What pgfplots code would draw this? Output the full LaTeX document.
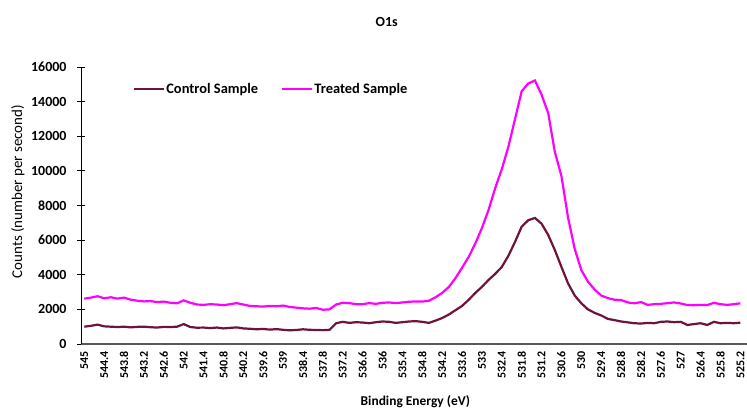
\documentclass[border=0pt]{standalone}
\usepackage{pgfplots}
\pgfplotsset{compat=1.18}
\usepackage{fontspec}
\setmainfont{Carlito}
\definecolor{ctrl}{RGB}{110,18,62}
\definecolor{treat}{RGB}{255,0,255}

\begin{document}
\begin{tikzpicture}
\useasboundingbox (-81bp,-68bp) rectangle (666bp,344bp);
\begin{axis}[
    at={(0,0)}, anchor=south west,
    scale only axis, width=666bp, height=277bp,
    x dir=reverse,
    xmin=525.0, xmax=545.1, ymin=0, ymax=16000,
    axis x line*=bottom, axis y line*=left,
    axis line style={-},
    x axis line style={draw=black!65, line width=1.4bp},
    y axis line style={black, line width=0.9bp},
    xtick={545,544.4,543.8,543.2,542.6,542,541.4,540.8,540.2,539.6,539,538.4,537.8,537.2,536.6,536,535.4,534.8,534.2,533.6,533,532.4,531.8,531.2,530.6,530,529.4,528.8,528.2,527.6,527,526.4,525.8,525.2},
    xticklabels={545,544.4,543.8,543.2,542.6,542,541.4,540.8,540.2,539.6,539,538.4,537.8,537.2,536.6,536,535.4,534.8,534.2,533.6,533,532.4,531.8,531.2,530.6,530,529.4,528.8,528.2,527.6,527,526.4,525.8,525.2},
    x tick label style={rotate=90, anchor=east, font=\fontsize{12}{14}\selectfont\bfseries},
    major x tick style={draw=none},
    ytick={0,2000,...,16000},
    scaled y ticks=false,
    y tick label style={xshift=-7bp, font=\fontsize{14}{16}\selectfont\bfseries},
    /pgf/number format/assume math mode=true,
    /pgf/number format/set thousands separator={},
    tick align=center, major tick length=8bp,
    ytick style={black, line width=0.9bp},
    xlabel={Binding Energy (eV)},
    xlabel style={at={(axis description cs:0.502,-0.209)}, anchor=center, font=\fontsize{13.5}{15}\selectfont\bfseries},
    ylabel={Counts (number per second)},
    ylabel style={at={(axis description cs:-0.0946,0.55)}, anchor=center, font=\fontsize{15}{17}\selectfont},
    title={O1s},
    title style={at={(axis description cs:0.459,1.141)}, anchor=center, font=\fontsize{14}{16}\selectfont\bfseries},
    legend columns=2,
    legend style={at={(axis description cs:0.078,0.92)}, anchor=west, draw=none, fill=none,
        font=\fontsize{14.5}{16}\selectfont\bfseries, inner sep=0pt,
        nodes={inner sep=1bp},
        /tikz/every even column/.append style={column sep=22bp}},
    legend image code/.code={\draw[#1] (0bp,0bp) -- (30bp,0bp);},
    every axis plot/.append style={line width=2.2bp},
]
\addplot[ctrl] coordinates {
(545.0,1000) (544.8,1050) (544.6,1120) (544.4,1020) (544.2,1000) (544.0,980)
(543.8,1000) (543.6,960) (543.4,990) (543.2,1000) (543.0,970) (542.8,950)
(542.6,990) (542.4,980) (542.2,1000) (542.0,1150) (541.8,980) (541.6,940)
(541.4,950) (541.2,920) (541.0,950) (540.8,900) (540.6,930) (540.4,960)
(540.2,900) (540.0,880) (539.8,850) (539.6,870) (539.4,830) (539.2,860)
(539.0,820) (538.8,790) (538.6,810) (538.4,850) (538.2,820) (538.0,810)
(537.8,800) (537.6,820) (537.4,1200) (537.2,1280) (537.0,1220) (536.8,1260)
(536.6,1240) (536.4,1200) (536.2,1260) (536.0,1300) (535.8,1280) (535.6,1220)
(535.4,1260) (535.2,1300) (535.0,1320) (534.8,1280) (534.6,1220) (534.4,1350)
(534.2,1500) (534.0,1700) (533.8,1950) (533.6,2200) (533.4,2550) (533.2,2950)
(533.0,3300) (532.8,3700) (532.6,4050) (532.4,4450) (532.2,5100) (532.0,5900)
(531.8,6780) (531.6,7150) (531.4,7280) (531.2,6950) (531.0,6300) (530.8,5430)
(530.6,4450) (530.4,3500) (530.2,2800) (530.0,2350) (529.8,2000) (529.6,1800)
(529.4,1650) (529.2,1450) (529.0,1380) (528.8,1300) (528.6,1250) (528.4,1200)
(528.2,1180) (528.0,1220) (527.8,1200) (527.6,1280) (527.4,1300) (527.2,1260)
(527.0,1280) (526.8,1100) (526.6,1150) (526.4,1200) (526.2,1100) (526.0,1280)
(525.8,1200) (525.6,1220) (525.4,1200) (525.2,1230)
};
\addlegendentry{Control Sample}
\addplot[treat] coordinates {
(545.0,2620) (544.8,2680) (544.6,2760) (544.4,2640) (544.2,2700) (544.0,2620)
(543.8,2680) (543.6,2560) (543.4,2500) (543.2,2460) (543.0,2480) (542.8,2420)
(542.6,2450) (542.4,2380) (542.2,2350) (542.0,2520) (541.8,2380) (541.6,2280)
(541.4,2260) (541.2,2300) (541.0,2280) (540.8,2240) (540.6,2300) (540.4,2360)
(540.2,2280) (540.0,2200) (539.8,2180) (539.6,2160) (539.4,2200) (539.2,2180)
(539.0,2220) (538.8,2140) (538.6,2100) (538.4,2060) (538.2,2040) (538.0,2080)
(537.8,1980) (537.6,2000) (537.4,2280) (537.2,2380) (537.0,2360) (536.8,2300)
(536.6,2300) (536.4,2360) (536.2,2320) (536.0,2380) (535.8,2400) (535.6,2360)
(535.4,2400) (535.2,2440) (535.0,2460) (534.8,2450) (534.6,2500) (534.4,2700)
(534.2,2950) (534.0,3290) (533.8,3800) (533.6,4400) (533.4,5030) (533.2,5800)
(533.0,6700) (532.8,7740) (532.6,9000) (532.4,10100) (532.2,11400) (532.0,13000)
(531.8,14600) (531.6,15050) (531.4,15220) (531.2,14400) (531.0,13340) (530.8,11100)
(530.6,9700) (530.4,7300) (530.2,5500) (530.0,4270) (529.8,3600) (529.6,3150)
(529.4,2800) (529.2,2650) (529.0,2560) (528.8,2540) (528.6,2400) (528.4,2350)
(528.2,2420) (528.0,2260) (527.8,2300) (527.6,2320) (527.4,2360) (527.2,2400)
(527.0,2340) (526.8,2250) (526.6,2240) (526.4,2260) (526.2,2250) (526.0,2380)
(525.8,2300) (525.6,2260) (525.4,2300) (525.2,2350)
};
\addlegendentry{Treated Sample}
\end{axis}
\end{tikzpicture}
\end{document}
